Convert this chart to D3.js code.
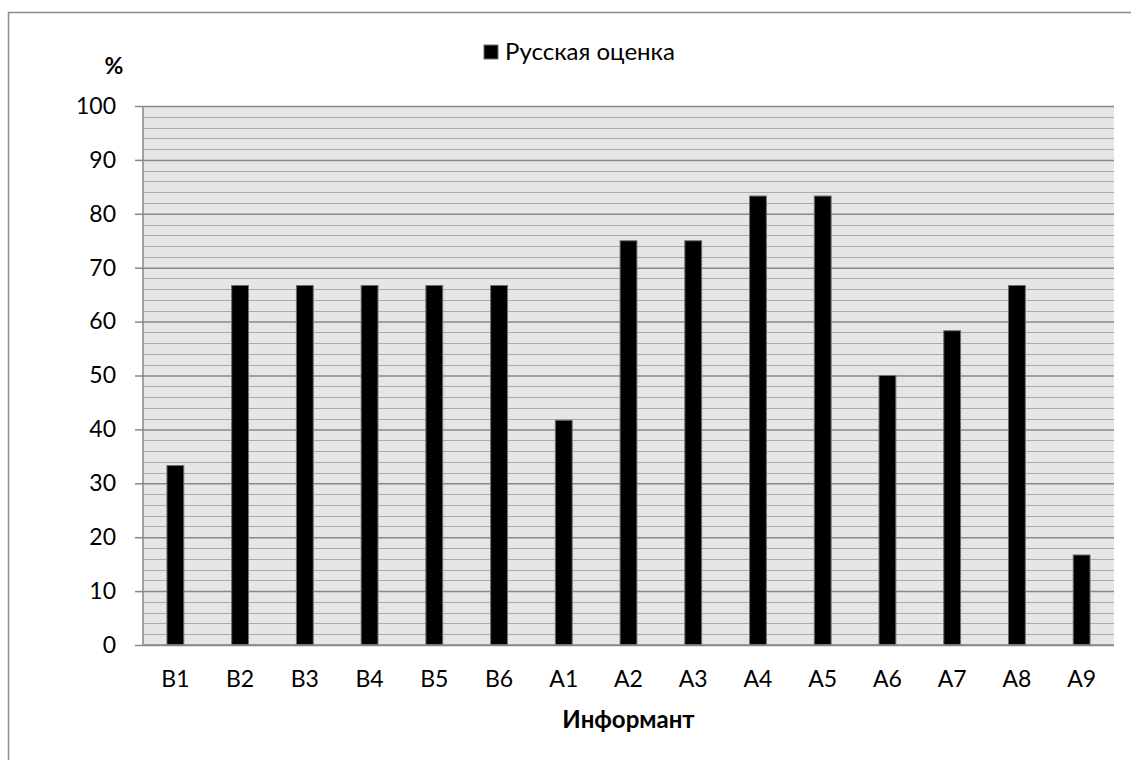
<!DOCTYPE html>
<html><head><meta charset="utf-8">
<script src="https://cdn.jsdelivr.net/npm/d3@7/dist/d3.min.js"></script>
<style>
html,body{margin:0;padding:0;background:#fff;}
svg{display:block;font-family:Lato,"Open Sans",sans-serif;}
</style></head>
<body>
<svg id="c" width="1131" height="760"></svg>
<script>
const categories = ["B1","B2","B3","B4","B5","B6","A1","A2","A3","A4","A5","A6","A7","A8","A9"];
const values = [33.3,66.7,66.7,66.7,66.7,66.7,41.7,75,75,83.3,83.3,50,58.3,66.7,16.7];
const yTicks = [0,10,20,30,40,50,60,70,80,90,100];
const minorTicks = d3.range(0,101,2);
const seriesName = "Русская оценка";
const xTitle = "Информант";
const yTitle = "%";

const svg = d3.select("#c");
const m = {left:143, right:1114, top:106, bottom:645};
const FS = 23;

svg.append("rect").attr("x",8.5).attr("y",12.5).attr("width",1140).attr("height",800)
  .attr("fill","#fff").attr("stroke","#8c8c8c").attr("stroke-width",1.5);

const x = d3.scaleBand().domain(categories).range([m.left,m.right]).paddingInner(0.74).paddingOuter(0.37);
const y = d3.scaleLinear().domain([0,100]).range([m.bottom,m.top]);

svg.append("rect").attr("x",m.left).attr("y",m.top).attr("width",m.right-m.left).attr("height",m.bottom-m.top)
  .attr("fill","#e6e6e6");

svg.append("g").selectAll("line").data(minorTicks.filter(d=>d%10!==0)).join("line")
  .attr("x1",m.left).attr("x2",m.right).attr("y1",d=>Math.round(y(d))+0.5).attr("y2",d=>Math.round(y(d))+0.5)
  .attr("stroke","#ababab").attr("stroke-width",1.2);

const yAxis = d3.axisLeft(y).tickValues(yTicks).tickSize(8).tickPadding(19);
const gy = svg.append("g").attr("transform",`translate(${m.left},0)`).call(yAxis);
gy.select(".domain").attr("stroke","#888").attr("stroke-width",1.5).attr("d",`M0,${m.top}V${m.bottom}`);
gy.selectAll(".tick line").attr("stroke","#888").attr("stroke-width",1.5);
gy.selectAll(".tick").append("line").attr("x1",0).attr("x2",m.right-m.left).attr("stroke","#888").attr("stroke-width",1.5);
gy.selectAll(".tick text").attr("fill","#000").attr("font-size",FS).attr("font-family","Lato, 'Open Sans', sans-serif");

svg.append("g").selectAll("rect").data(values).join("rect")
  .attr("x",(d,i)=>x(categories[i])).attr("width",x.bandwidth())
  .attr("y",d=>y(d)).attr("height",d=>y(0)-y(d))
  .attr("fill","#000").attr("stroke","#6f6f6f").attr("stroke-width",1);

const xAxis = d3.axisBottom(x).tickSize(0).tickPadding(0);
const gx = svg.append("g").attr("transform",`translate(0,${m.bottom})`).call(xAxis);
gx.select(".domain").attr("stroke","#888").attr("stroke-width",1.5).attr("d",`M${m.left},0H${m.right}`);
gx.selectAll(".tick text").attr("fill","#000").attr("font-size",FS).attr("font-family","Lato, 'Open Sans', sans-serif")
  .attr("y",42).attr("dy",0);

svg.append("text").attr("x",(m.left+m.right)/2).attr("y",728).attr("text-anchor","middle")
  .attr("font-weight","bold").attr("font-size",24).text(xTitle);
svg.append("text").attr("x",114).attr("y",74).attr("text-anchor","middle")
  .attr("font-weight","bold").attr("font-size",23).text(yTitle);

const lg = svg.append("g");
lg.append("rect").attr("x",484).attr("y",45).attr("width",14).attr("height",14)
  .attr("fill","#000").attr("stroke","#6f6f6f").attr("stroke-width",1);
lg.append("text").attr("x",505).attr("y",60).attr("font-size",24).text(seriesName);
</script>
</body></html>
